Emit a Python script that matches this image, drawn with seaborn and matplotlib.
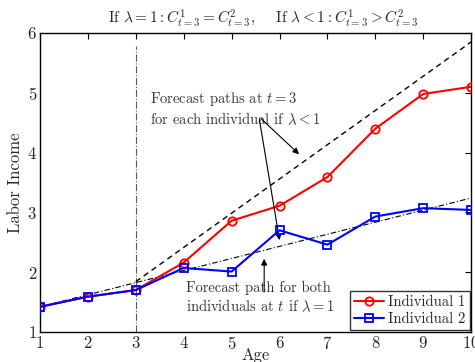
import matplotlib
matplotlib.use("Agg")
import matplotlib.pyplot as plt
import seaborn as sns

# data
age = [1, 2, 3, 4, 5, 6, 7, 8, 9, 10]
income_ind1 = [1.42, 1.59, 1.70, 2.16, 2.86, 3.11, 3.59, 4.40, 4.98, 5.10]
income_ind2 = [1.42, 1.59, 1.70, 2.07, 2.01, 2.70, 2.46, 2.93, 3.07, 3.04]

# forecast paths (endpoints)
fc_lam_lt1_age = [3, 10]
fc_lam_lt1 = [1.84, 5.85]
fc_lam_eq1_age = [1, 10]
fc_lam_eq1 = [1.42, 3.24]

x_ticks = [1, 2, 3, 4, 5, 6, 7, 8, 9, 10]
y_ticks = [1, 2, 3, 4, 5, 6]

sns.set_theme(style="white")
plt.rcParams["font.family"] = ["cmr10", "DejaVu Serif"]
plt.rcParams["mathtext.fontset"] = "cm"
plt.rcParams["axes.formatter.use_mathtext"] = True

fig = plt.figure(figsize=(4.75, 3.62), dpi=100)
ax = fig.add_axes([0.084, 0.083, 0.908, 0.826])

# vertical marker at t = 3
ax.plot([3, 3], [1, 5.78], color="0.35", ls="-.", lw=0.8, zorder=1)

# forecast paths
ax.plot(fc_lam_lt1_age, fc_lam_lt1, color="black", ls=(0, (4, 3)), lw=1.0, zorder=2)
ax.plot(fc_lam_eq1_age, fc_lam_eq1, color="black", ls=(0, (5, 2, 1, 2)), lw=0.8, zorder=2)

sns.lineplot(x=age, y=income_ind1, ax=ax, color="red", lw=1.5, marker="o",
             markersize=6, markerfacecolor="none", markeredgecolor="red",
             markeredgewidth=1.3, label="Individual 1", zorder=3)
sns.lineplot(x=age, y=income_ind2, ax=ax, color="blue", lw=1.5, marker="s",
             markersize=5.5, markerfacecolor="none", markeredgecolor="blue",
             markeredgewidth=1.3, label="Individual 2", zorder=4)

# annotations
ax.text(3.3, 5.05, "Forecast paths at $t=3$\nfor each individual if $\\lambda<1$",
        fontsize=10.5, va="top", ha="left", color="0.2", linespacing=1.25)
arrow = dict(arrowstyle="-|>", color="black", lw=0.8, mutation_scale=9)
ax.annotate("", xy=(6.45, 3.94), xytext=(5.57, 4.6), arrowprops=arrow)
ax.annotate("", xy=(6.01, 2.49), xytext=(5.57, 4.6), arrowprops=arrow)

ax.text(4.05, 1.86, "Forecast path for both\nindividuals at $t$ if $\\lambda=1$",
        fontsize=10.5, va="top", ha="left", color="0.2", linespacing=1.25)
ax.annotate("", xy=(5.68, 2.27), xytext=(5.68, 1.62), arrowprops=arrow)

ax.set_xlim(1, 10)
ax.set_ylim(1, 6)
ax.set_xticks(x_ticks)
ax.set_yticks(y_ticks)
ax.tick_params(direction="in", top=True, right=True, length=4, width=0.8,
               labelsize=12, pad=2, color="black")
for s in ax.spines.values():
    s.set_color("black")
    s.set_linewidth(1.0)

ax.set_xlabel("Age", fontsize=12, labelpad=-3)
ax.set_ylabel("Labor Income", fontsize=12, labelpad=3)
fig.text(0.555, 0.95, "If $\\lambda=1: C^1_{t=3}=C^2_{t=3},\\quad$ If $\\lambda<1: C^1_{t=3}>C^2_{t=3}$",
         ha="center", va="center", fontsize=11)

leg = ax.legend(loc="lower right", fontsize=10.5, frameon=True, fancybox=False,
                borderpad=0.3, handlelength=2.0, handletextpad=0.3,
                labelspacing=0.25, borderaxespad=0.1)
leg.get_frame().set_edgecolor("black")
leg.get_frame().set_linewidth(1.0)

fig.savefig("out.png", dpi=100)
